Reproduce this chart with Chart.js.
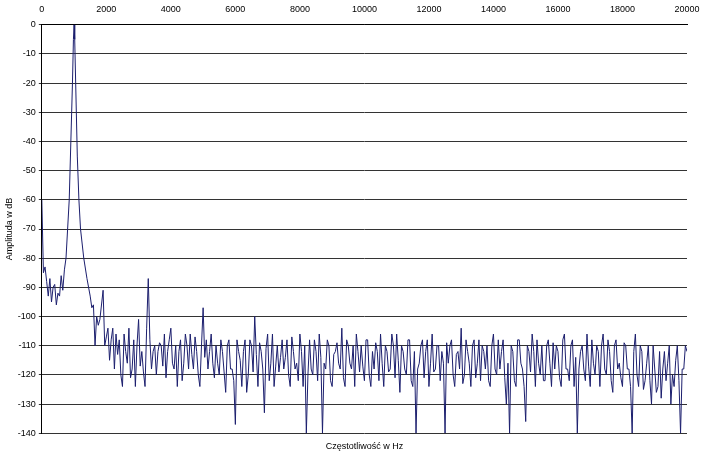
<!DOCTYPE html>
<html>
<head>
<meta charset="utf-8">
<script src="https://cdn.jsdelivr.net/npm/chart.js@4.4.0/dist/chart.umd.min.js"></script>
<style>
  html, body { margin: 0; padding: 0; background: #fff; }
  #wrap { width: 705px; height: 458px; }
</style>
</head>
<body>
<div id="wrap"><canvas id="widmo"></canvas></div>
<script>
// Widmo sygnalu 1 kHz
const lowFreq = [0, 20, 50, 100, 150, 200, 250, 300, 350, 400, 450, 500, 550, 600, 650, 700, 750, 800, 850, 900, 950, 980, 1000, 1020, 1050, 1100, 1150, 1200, 1300, 1400, 1500, 1550, 1600, 1650, 1700, 1750, 1800];
const lowAmp  = [-60, -70, -85, -83, -88, -93, -87, -95, -90, -89, -96, -92, -93, -86, -91, -84, -80, -70, -60, -40, -20, -5, 0, -5, -20, -45, -60, -70, -80, -87, -93, -97, -96, -110, -100, -103, -101];

// szum od 1900 Hz co 100 Hz
const noiseStart = 1900;
const noiseStep = 100;
const noiseAmp = [
  -91, -107, -115, -104, -106, -108, -124, -112, -104, -118, -124, -101, -112, -124, -87, -118, -110, -112, -110, -106,
  -112, -104, -118, -124, -108, -116, -110, -106, -118, -112, -124, -97, -108, -112, -116, -110, -120, -112, -126, -108,
  -118, -137, -112, -124, -108, -120, -110, -100, -124, -112, -133, -106, -116, -124, -110, -114, -118, -108, -124, -112,
  -116, -106, -124, -140, -108, -120, -112, -106, -140, -118, -110, -124, -112, -116, -104, -124, -110, -118, -124, -112,
  -110, -122, -108, -124, -118, -112, -106, -124, -112, -118, -110, -106, -126, -112, -120, -108, -124, -140, -116, -108,
  -112, -124, -106, -118, -110, -112, -140, -116, -108, -124, -112, -104, -120, -112, -124, -108, -116, -122, -112, -110,
  -124, -106, -120, -118, -108, -130, -140, -112, -124, -108, -118, -136, -112, -106, -124, -116, -110, -122, -108, -124,
  -118, -112, -124, -106, -118, -110, -124, -140, -112, -118, -106, -124, -116, -110, -124, -106, -120, -112, -126, -108,
  -116, -124, -110, -118, -140, -106, -124, -112, -122, -110, -130, -118, -124, -128, -112, -116, -130, -124, -110, -140,
  -118, -112, -124, -116, -114
];
// wartosci posrednie (co 100 Hz, przesuniete o 50 Hz)
const noiseMid = [
  -110, -104, -108, -118, -113, -120, -106, -116, -121, -108, -110, -117, -119, -104, -108, -112, -120, -109, -117, -121,
  -108, -116, -110, -112, -122, -106, -118, -113, -107, -120, -110, -114, -118, -106, -121, -116, -108, -119, -110, -118,
  -122, -108, -115, -112, -126, -108, -119, -113, -109, -118, -111, -122, -106, -117, -119, -108, -114, -120, -107, -118,
  -122, -112, -110, -120, -118, -108, -122, -114, -116, -108, -122, -113, -109, -118, -121, -108, -116, -110, -106, -119,
  -117, -108, -120, -112, -109, -122, -116, -110, -119, -106, -121, -115, -110, -118, -108, -122, -112, -118, -110, -121,
  -108, -116, -119, -110, -122, -116, -109, -110, -120, -113, -118, -123, -108, -116, -110, -121, -108, -110, -118, -122,
  -110, -118, -108, -112, -121, -116, -110, -122, -108, -116, -124, -110, -119, -112, -108, -120, -122, -110, -116, -109,
  -110, -121, -108, -118, -122, -108, -114, -118, -110, -122, -117, -108, -120, -112, -110, -118, -108, -122, -110, -118,
  -121, -109, -118, -124, -112, -120, -110, -125, -116, -122, -110, -126, -112, -118, -122, -110, -120, -115, -122, -118,
  -110, -120, -112, -122
];

const yTicks = [0, -10, -20, -30, -40, -50, -60, -70, -80, -90, -100, -110, -120, -130, -140];

const noisePts = [];
noiseAmp.forEach((a, i) => {
  noisePts.push({ x: noiseStart + i * noiseStep, y: a });
  if (i < noiseMid.length) noisePts.push({ x: noiseStart + i * noiseStep + 50, y: noiseMid[i] });
});
const points = lowFreq.map((f, i) => ({ x: f, y: lowAmp[i] }))
  .concat(noisePts)
  .filter(p => p.x <= 20000);

Chart.defaults.font.family = "'Liberation Sans', Arial, sans-serif";
Chart.defaults.font.size = 9;
Chart.defaults.color = '#000';

new Chart(document.getElementById('widmo'), {
  type: 'line',
  data: {
    datasets: [{
      data: points,
      borderColor: '#1c1f6e',
      borderWidth: 1,
      pointRadius: 0,
      tension: 0,
    }],
  },
  options: {
    responsive: true,
    maintainAspectRatio: false,
    animation: false,
    layout: { padding: { left: 4, right: 18, top: 2, bottom: 2 } },
    plugins: { legend: { display: false }, tooltip: { enabled: false } },
    scales: {
      x: {
        type: 'linear',
        position: 'top',
        min: 0, max: 20000,
        ticks: { stepSize: 2000, maxRotation: 0, padding: 2, callback: v => String(v) },
        grid: { display: false, drawTicks: true },
        border: { color: '#000' },
      },
      x2: {
        type: 'linear',
        position: 'bottom',
        min: 0, max: 20000,
        ticks: { display: false },
        grid: { display: false },
        border: { display: false },
        title: { display: true, text: 'Częstotliwość w Hz', font: { size: 9 }, padding: { top: 0, bottom: 4 } },
      },
      y: {
        min: -140, max: 0,
        afterBuildTicks: axis => { axis.ticks = yTicks.map(v => ({ value: v })); },
        ticks: { padding: 3, callback: v => String(v) },
        grid: { color: '#333', drawTicks: true, tickLength: 3 },
        border: { color: '#000' },
        title: { display: true, text: 'Amplituda w dB', font: { size: 9 }, padding: 0 },
      },
    },
  },
});
</script>
</body>
</html>
